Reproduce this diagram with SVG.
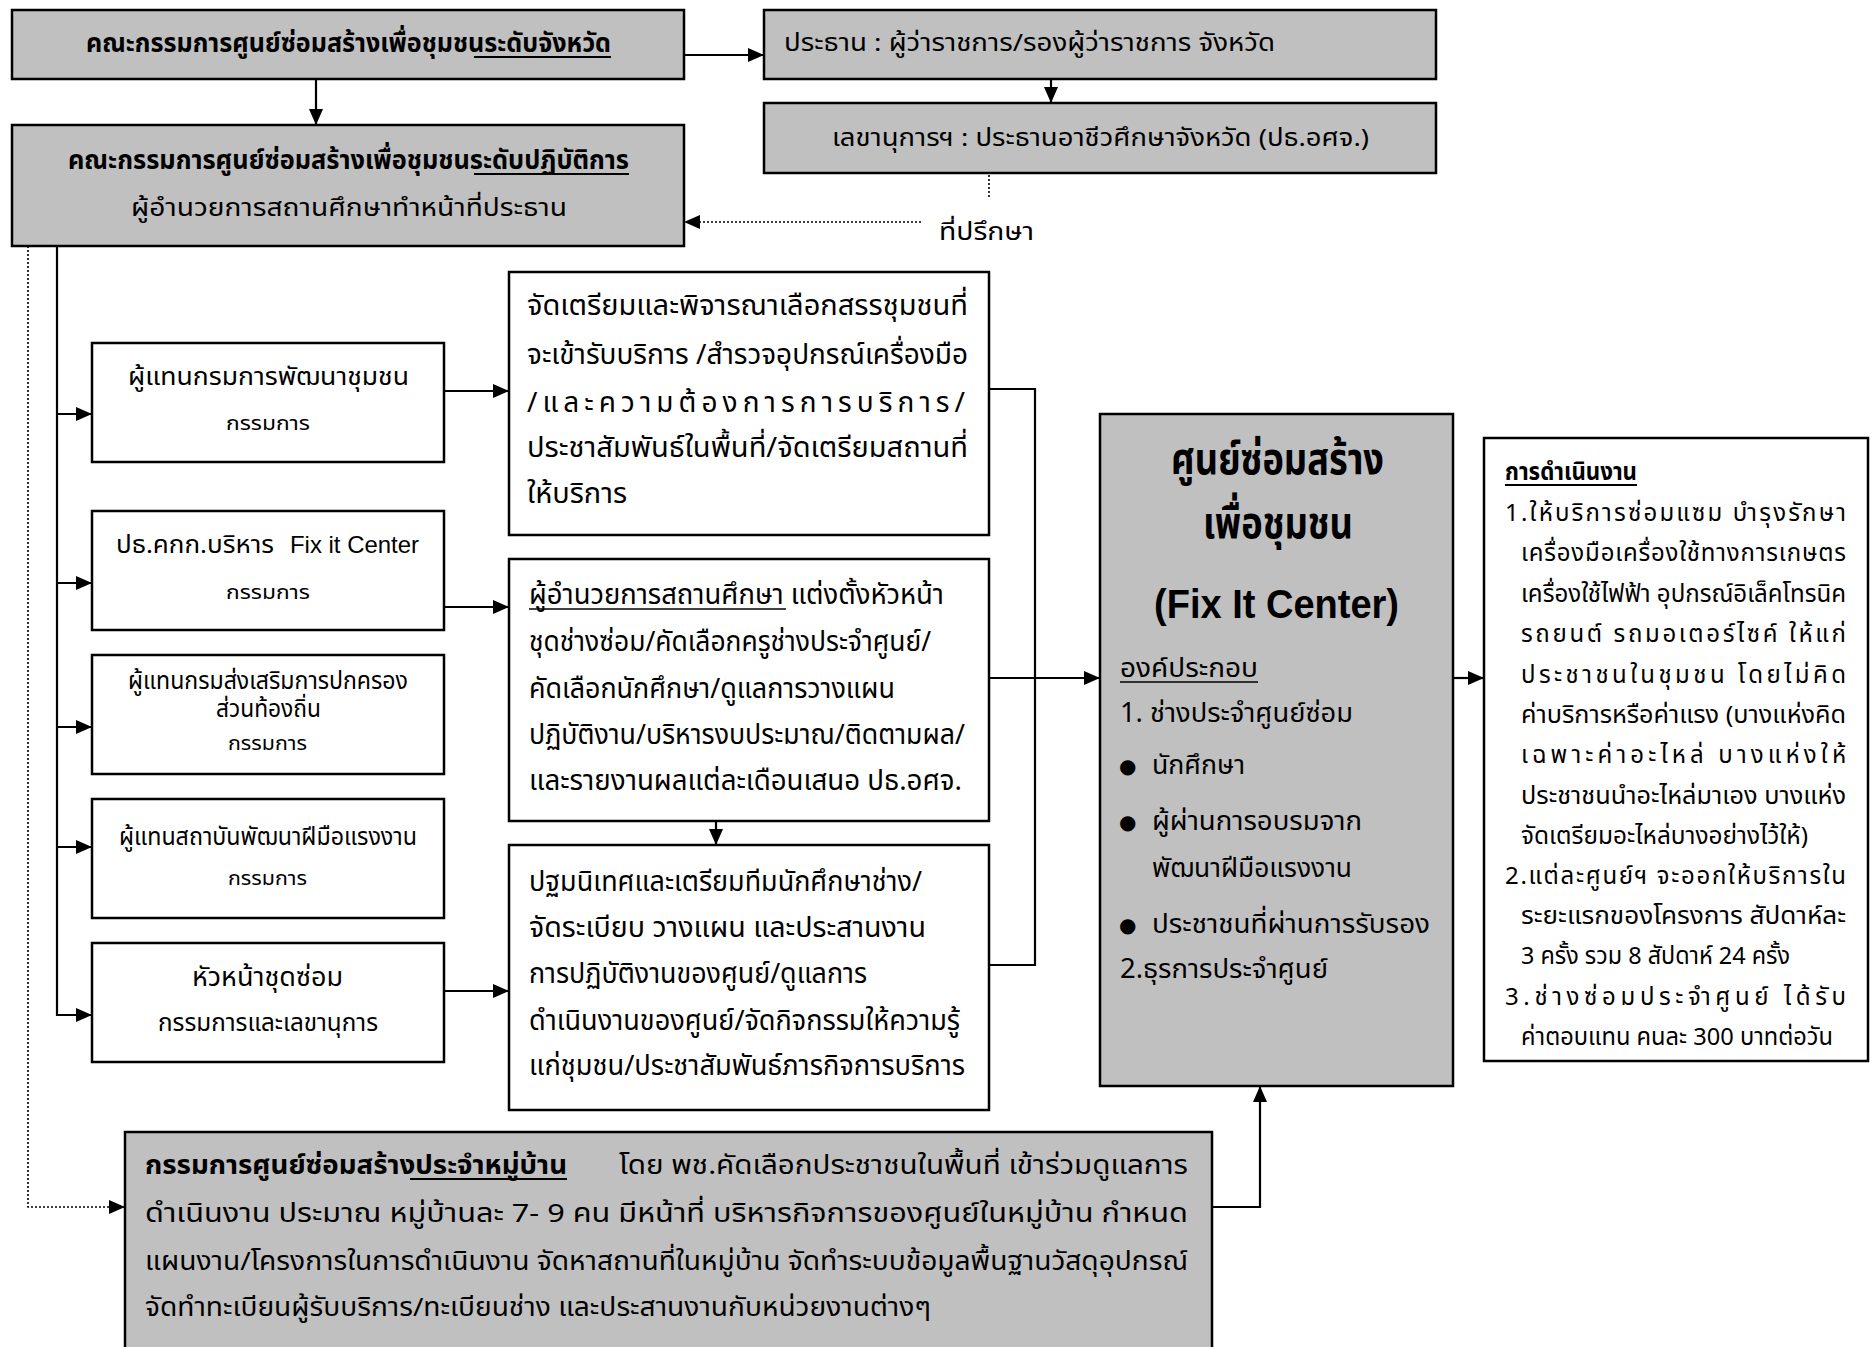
<svg xmlns="http://www.w3.org/2000/svg" width="1872" height="1347" viewBox="0 0 1872 1347">
<defs>
<marker id="ah" markerUnits="userSpaceOnUse" markerWidth="16" markerHeight="14" refX="16" refY="7" orient="auto">
<path d="M0,0 L16,7 L0,14 z" fill="#000"/>
</marker>
<style>
.g{fill:#c0c0c0;stroke:#000;stroke-width:2.5}
.w{fill:#fff;stroke:#000;stroke-width:2.5}
.ln{fill:none;stroke:#000;stroke-width:2.2}
.dt{fill:none;stroke:#000;stroke-width:1.6;stroke-dasharray:2 2}
.ul{stroke:#000;stroke-width:2.2}
.ult{stroke:#000;stroke-width:1.6}
text{font-family:"Noto Sans Thai","Noto Sans Thai Looped","Noto Sans","DejaVu Sans",sans-serif;fill:#000}
.b{font-weight:bold}
.t24{font-size:24px}
.t20{font-size:19px}
.t26{font-size:26px}
.t28{font-size:28px}
.f{font-size:27px}
.r{font-size:24px}
.en{font-family:"Liberation Sans",Arial,sans-serif}
.bul{font-family:"DejaVu Sans",sans-serif;font-size:20px}
.lat{font-family:"Liberation Sans",Arial,sans-serif;font-weight:bold;font-size:40px}
</style>
</defs>
<rect width="1872" height="1347" fill="#fff"/>

<g id="connectors">
<line class="ln" x1="684" y1="55" x2="764" y2="55" marker-end="url(#ah)"/>
<line class="ln" x1="1051" y1="79" x2="1051" y2="103" marker-end="url(#ah)"/>
<line class="ln" x1="316" y1="79" x2="316" y2="125" marker-end="url(#ah)"/>
<line class="dt" x1="989" y1="175" x2="989" y2="197"/>
<line class="dt" x1="921" y1="222" x2="684" y2="222" marker-end="url(#ah)"/>
<line class="ln" x1="57" y1="246" x2="57" y2="1016"/>
<line class="ln" x1="57" y1="414" x2="92" y2="414" marker-end="url(#ah)"/>
<line class="ln" x1="57" y1="583" x2="92" y2="583" marker-end="url(#ah)"/>
<line class="ln" x1="57" y1="727" x2="92" y2="727" marker-end="url(#ah)"/>
<line class="ln" x1="57" y1="847" x2="92" y2="847" marker-end="url(#ah)"/>
<line class="ln" x1="57" y1="1015" x2="92" y2="1015" marker-end="url(#ah)"/>
<polyline class="dt" points="28,246 28,1207 125,1207" marker-end="url(#ah)"/>
<line class="ln" x1="444" y1="391" x2="509" y2="391" marker-end="url(#ah)"/>
<line class="ln" x1="444" y1="607" x2="509" y2="607" marker-end="url(#ah)"/>
<line class="ln" x1="444" y1="991" x2="509" y2="991" marker-end="url(#ah)"/>
<line class="ln" x1="716" y1="821" x2="716" y2="845" marker-end="url(#ah)"/>
<polyline class="ln" points="989,389 1035,389 1035,965 989,965"/>
<line class="ln" x1="989" y1="678" x2="1100" y2="678" marker-end="url(#ah)"/>
<line class="ln" x1="1453" y1="678" x2="1484" y2="678" marker-end="url(#ah)"/>
<polyline class="ln" points="1212,1207 1260,1207 1260,1086" marker-end="url(#ah)"/>
</g>

<g id="node-province">
<rect class="g" x="12" y="10" width="672" height="69"/>
<text class="t26 b" x="86" y="52" textLength="525" lengthAdjust="spacingAndGlyphs">คณะกรรมการศูนย์ซ่อมสร้างเพื่อชุมชนระดับจังหวัด</text>
<line class="ul" x1="474" y1="57" x2="611" y2="57"/>
</g>

<g id="node-chair">
<rect class="g" x="764" y="10" width="672" height="69"/>
<text class="t24" x="784" y="51" textLength="491" lengthAdjust="spacingAndGlyphs">ประธาน : ผู้ว่าราชการ/รองผู้ว่าราชการ จังหวัด</text>
</g>

<g id="node-secretary">
<rect class="g" x="764" y="103" width="672" height="70"/>
<text class="t24" x="832" y="146" textLength="537" lengthAdjust="spacingAndGlyphs">เลขานุการฯ : ประธานอาชีวศึกษาจังหวัด (ปธ.อศจ.)</text>
</g>

<g id="label-advisor">
<text class="t24" x="939" y="240" textLength="95" lengthAdjust="spacingAndGlyphs">ที่ปรึกษา</text>
</g>

<g id="node-operation">
<rect class="g" x="12" y="125" width="672" height="121"/>
<text class="t26 b" x="68" y="169" textLength="561" lengthAdjust="spacingAndGlyphs">คณะกรรมการศูนย์ซ่อมสร้างเพื่อชุมชนระดับปฏิบัติการ</text>
<line class="ul" x1="474" y1="174" x2="629" y2="174"/>
<text class="t24" x="131" y="216" textLength="436" lengthAdjust="spacingAndGlyphs">ผู้อำนวยการสถานศึกษาทำหน้าที่ประธาน</text>
</g>

<g id="node-e1">
<rect class="w" x="92" y="343" width="352" height="119"/>
<text class="t24" x="128" y="385" textLength="281" lengthAdjust="spacingAndGlyphs">ผู้แทนกรมการพัฒนาชุมชน</text>
<text class="t20" x="226" y="430" textLength="84" lengthAdjust="spacingAndGlyphs">กรรมการ</text>
</g>

<g id="node-e2">
<rect class="w" x="92" y="511" width="352" height="119"/>
<text class="t24" x="116" y="553" textLength="158" lengthAdjust="spacingAndGlyphs">ปธ.คกก.บริหาร</text>
<text class="t24 en" x="290" y="553" textLength="129" lengthAdjust="spacingAndGlyphs">Fix it Center</text>
<text class="t20" x="226" y="599" textLength="84" lengthAdjust="spacingAndGlyphs">กรรมการ</text>
</g>

<g id="node-e3">
<rect class="w" x="92" y="655" width="352" height="119"/>
<text class="t24" x="128" y="689" textLength="280" lengthAdjust="spacingAndGlyphs">ผู้แทนกรมส่งเสริมการปกครอง</text>
<text class="t24" x="216" y="717" textLength="105" lengthAdjust="spacingAndGlyphs">ส่วนท้องถิ่น</text>
<text class="t20" x="228" y="750" textLength="79" lengthAdjust="spacingAndGlyphs">กรรมการ</text>
</g>

<g id="node-e4">
<rect class="w" x="92" y="799" width="352" height="119"/>
<text class="t24" x="119" y="845" textLength="298" lengthAdjust="spacingAndGlyphs">ผู้แทนสถาบันพัฒนาฝีมือแรงงาน</text>
<text class="t20" x="228" y="885" textLength="79" lengthAdjust="spacingAndGlyphs">กรรมการ</text>
</g>

<g id="node-e5">
<rect class="w" x="92" y="943" width="352" height="119"/>
<text class="t26" x="192" y="986" textLength="151" lengthAdjust="spacingAndGlyphs">หัวหน้าชุดซ่อม</text>
<text class="t24" x="158" y="1031" textLength="220" lengthAdjust="spacingAndGlyphs">กรรมการและเลขานุการ</text>
</g>

<g id="node-f1">
<rect class="w" x="509" y="272" width="480" height="263"/>
<text class="t28" x="527" y="315" textLength="441" lengthAdjust="spacingAndGlyphs">จัดเตรียมและพิจารณาเลือกสรรชุมชนที่</text>
<text class="t28" x="527" y="364" textLength="441" lengthAdjust="spacingAndGlyphs">จะเข้ารับบริการ /สำรวจอุปกรณ์เครื่องมือ</text>
<text class="t28" x="527" y="412" textLength="438" lengthAdjust="spacing">/และความต้องการการบริการ/</text>
<text class="t28" x="527" y="457" textLength="441" lengthAdjust="spacingAndGlyphs">ประชาสัมพันธ์ในพื้นที่/จัดเตรียมสถานที่</text>
<text class="t28" x="527" y="503" textLength="100" lengthAdjust="spacingAndGlyphs">ให้บริการ</text>
</g>

<g id="node-f2">
<rect class="w" x="509" y="559" width="480" height="262"/>
<text class="t28" x="529" y="604" textLength="415" lengthAdjust="spacingAndGlyphs">ผู้อำนวยการสถานศึกษา แต่งตั้งหัวหน้า</text>
<line class="ult" x1="529" y1="609" x2="786" y2="609"/>
<text class="t28" x="529" y="651" textLength="402" lengthAdjust="spacingAndGlyphs">ชุดช่างซ่อม/คัดเลือกครูช่างประจำศูนย์/</text>
<text class="t28" x="529" y="698" textLength="366" lengthAdjust="spacingAndGlyphs">คัดเลือกนักศึกษา/ดูแลการวางแผน</text>
<text class="t28" x="529" y="744" textLength="436" lengthAdjust="spacingAndGlyphs">ปฏิบัติงาน/บริหารงบประมาณ/ติดตามผล/</text>
<text class="t28" x="529" y="790" textLength="433" lengthAdjust="spacingAndGlyphs">และรายงานผลแต่ละเดือนเสนอ ปธ.อศจ.</text>
</g>

<g id="node-f3">
<rect class="w" x="509" y="845" width="480" height="265"/>
<text class="t28" x="529" y="891" textLength="393" lengthAdjust="spacingAndGlyphs">ปฐมนิเทศและเตรียมทีมนักศึกษาช่าง/</text>
<text class="t28" x="529" y="937" textLength="397" lengthAdjust="spacingAndGlyphs">จัดระเบียบ วางแผน และประสานงาน</text>
<text class="t28" x="529" y="983" textLength="338" lengthAdjust="spacingAndGlyphs">การปฏิบัติงานของศูนย์/ดูแลการ</text>
<text class="t28" x="529" y="1030" textLength="431" lengthAdjust="spacingAndGlyphs">ดำเนินงานของศูนย์/จัดกิจกรรมให้ความรู้</text>
<text class="t28" x="529" y="1075" textLength="436" lengthAdjust="spacingAndGlyphs">แก่ชุมชน/ประชาสัมพันธ์ภารกิจการบริการ</text>
</g>

<g id="node-center">
<rect class="g" x="1100" y="414" width="353" height="672"/>
<text class="b" style="font-size:44px" x="1171" y="474" textLength="213" lengthAdjust="spacingAndGlyphs">ศูนย์ซ่อมสร้าง</text>
<text class="b" style="font-size:44px" x="1203" y="538" textLength="150" lengthAdjust="spacingAndGlyphs">เพื่อชุมชน</text>
<text class="lat" x="1154" y="618" textLength="245" lengthAdjust="spacingAndGlyphs">(Fix It Center)</text>
<text class="f" x="1120" y="677" textLength="138" lengthAdjust="spacingAndGlyphs">องค์ประกอบ</text>
<line class="ult" x1="1120" y1="682" x2="1258" y2="682"/>
<text class="f" x="1120" y="722" textLength="233" lengthAdjust="spacingAndGlyphs">1. ช่างประจำศูนย์ซ่อม</text>
<text class="bul" x="1119" y="773">●</text>
<text class="f" x="1152" y="774" textLength="93" lengthAdjust="spacingAndGlyphs">นักศึกษา</text>
<text class="bul" x="1119" y="829">●</text>
<text class="f" x="1152" y="830" textLength="210" lengthAdjust="spacingAndGlyphs">ผู้ผ่านการอบรมจาก</text>
<text class="f" x="1152" y="877" textLength="200" lengthAdjust="spacingAndGlyphs">พัฒนาฝีมือแรงงาน</text>
<text class="bul" x="1119" y="932">●</text>
<text class="f" x="1152" y="933" textLength="278" lengthAdjust="spacingAndGlyphs">ประชาชนที่ผ่านการรับรอง</text>
<text class="f" x="1120" y="978" textLength="208" lengthAdjust="spacingAndGlyphs">2.ธุรการประจำศูนย์</text>
</g>

<g id="node-operations">
<rect class="w" x="1484" y="438" width="384" height="623"/>
<text class="r b" x="1505" y="480" textLength="132" lengthAdjust="spacingAndGlyphs">การดำเนินงาน</text>
<line class="ul" x1="1505" y1="485" x2="1637" y2="485"/>
<text class="r" x="1505" y="521" textLength="341" lengthAdjust="spacing">1.ให้บริการซ่อมแซม บำรุงรักษา</text>
<text class="r" x="1521" y="561" textLength="325" lengthAdjust="spacing">เครื่องมือเครื่องใช้ทางการเกษตร</text>
<text class="r" x="1521" y="602" textLength="325" lengthAdjust="spacingAndGlyphs">เครื่องใช้ไฟฟ้า อุปกรณ์อิเล็คโทรนิค</text>
<text class="r" x="1521" y="642" textLength="325" lengthAdjust="spacing">รถยนต์ รถมอเตอร์ไซค์ ให้แก่</text>
<text class="r" x="1521" y="683" textLength="325" lengthAdjust="spacing">ประชาชนในชุมชน โดยไม่คิด</text>
<text class="r" x="1521" y="723" textLength="325" lengthAdjust="spacingAndGlyphs">ค่าบริการหรือค่าแรง (บางแห่งคิด</text>
<text class="r" x="1521" y="763" textLength="325" lengthAdjust="spacing">เฉพาะค่าอะไหล่ บางแห่งให้</text>
<text class="r" x="1521" y="804" textLength="325" lengthAdjust="spacingAndGlyphs">ประชาชนนำอะไหล่มาเอง บางแห่ง</text>
<text class="r" x="1521" y="844" textLength="287" lengthAdjust="spacingAndGlyphs">จัดเตรียมอะไหล่บางอย่างไว้ให้)</text>
<text class="r" x="1505" y="884" textLength="341" lengthAdjust="spacing">2.แต่ละศูนย์ฯ จะออกให้บริการใน</text>
<text class="r" x="1521" y="924" textLength="325" lengthAdjust="spacingAndGlyphs">ระยะแรกของโครงการ สัปดาห์ละ</text>
<text class="r" x="1521" y="964" textLength="269" lengthAdjust="spacingAndGlyphs">3 ครั้ง รวม 8 สัปดาห์ 24 ครั้ง</text>
<text class="r" x="1505" y="1005" textLength="341" lengthAdjust="spacing">3.ช่างซ่อมประจำศูนย์ ได้รับ</text>
<text class="r" x="1521" y="1045" textLength="312" lengthAdjust="spacingAndGlyphs">ค่าตอบแทน คนละ 300 บาทต่อวัน</text>
</g>

<g id="node-village">
<rect class="g" x="125" y="1132" width="1087" height="230"/>
<text class="t26 b" x="145" y="1174" textLength="422" lengthAdjust="spacingAndGlyphs">กรรมการศูนย์ซ่อมสร้างประจำหมู่บ้าน</text>
<line class="ul" x1="410" y1="1179" x2="567" y2="1179"/>
<text class="t26" x="619" y="1174" textLength="569" lengthAdjust="spacingAndGlyphs">โดย พช.คัดเลือกประชาชนในพื้นที่ เข้าร่วมดูแลการ</text>
<text class="t26" x="145" y="1222" textLength="1043" lengthAdjust="spacingAndGlyphs">ดำเนินงาน ประมาณ หมู่บ้านละ 7- 9 คน มีหน้าที่ บริหารกิจการของศูนย์ในหมู่บ้าน กำหนด</text>
<text class="t26" x="145" y="1270" textLength="1043" lengthAdjust="spacingAndGlyphs">แผนงาน/โครงการในการดำเนินงาน จัดหาสถานที่ในหมู่บ้าน จัดทำระบบข้อมูลพื้นฐานวัสดุอุปกรณ์</text>
<text class="t26" x="145" y="1316" textLength="786" lengthAdjust="spacingAndGlyphs">จัดทำทะเบียนผู้รับบริการ/ทะเบียนช่าง และประสานงานกับหน่วยงานต่างๆ</text>
</g>
</svg>
